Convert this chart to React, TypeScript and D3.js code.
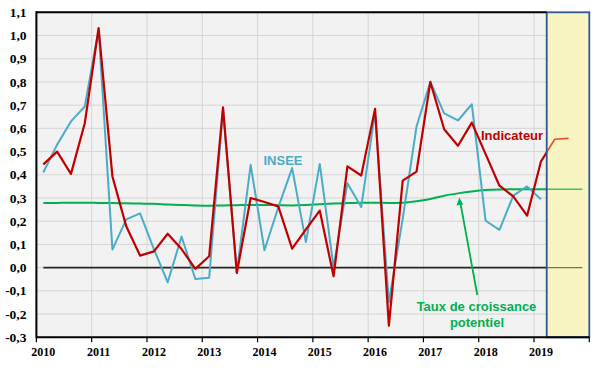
import React from "react";
import * as d3 from "d3";

const years = [2010, 2011, 2012, 2013, 2014, 2015, 2016, 2017, 2018, 2019];
const quarterNames = ["T1", "T2", "T3", "T4"];
const categories = years.flatMap((y) => quarterNames.map((q, k) => ({ label: `${y}${q}`, t: y + (k + 0.5) / 4 })));

// Indicateur (red), 2010T1 .. 2019T3
const indicateur = [
  0.445, 0.5, 0.404, 0.622, 1.032, 0.393, 0.178, 0.052, 0.07, 0.146,
  0.08, -0.005, 0.049, 0.691, -0.023, 0.3, 0.283, 0.264, 0.082, 0.165,
  0.246, -0.037, 0.436, 0.397, 0.684, -0.25, 0.375, 0.414, 0.8, 0.596,
  0.525, 0.625, 0.489, 0.353, 0.307, 0.224, 0.457, 0.553, 0.557,
];
// INSEE (blue), 2010T1 .. 2019T1
const insee = [
  0.41, 0.53, 0.63, 0.694, 1.027, 0.078, 0.208, 0.234, 0.08, -0.063,
  0.134, -0.049, -0.043, 0.68, -0.02, 0.443, 0.075, 0.26, 0.429, 0.11,
  0.447, 0.0, 0.364, 0.261, 0.67, -0.15, 0.21, 0.608, 0.8, 0.665,
  0.634, 0.704, 0.202, 0.163, 0.31, 0.35, 0.295,
];
// Taux de croissance potentiel (green), 2010T1 .. 2019T4
const potentiel = [
  0.278, 0.279, 0.28, 0.28, 0.279, 0.278, 0.277, 0.276, 0.275, 0.272,
  0.27, 0.268, 0.267, 0.268, 0.269, 0.27, 0.27, 0.269, 0.268, 0.27,
  0.273, 0.276, 0.278, 0.28, 0.28, 0.279, 0.28, 0.286, 0.296, 0.31,
  0.32, 0.328, 0.334, 0.337, 0.338, 0.338, 0.338, 0.338, 0.338, 0.338,
];
const yTicks = [-0.3, -0.2, -0.1, 0.0, 0.1, 0.2, 0.3, 0.4, 0.5, 0.6, 0.7, 0.8, 0.9, 1.0, 1.1];
const forecastStart = 2019.23;

const W = 600;
const H = 371;

export default function App() {
  const x = d3.scaleLinear().domain([2010, 2020]).range([36.4, 589.3]);
  const y = d3.scaleLinear().domain([-0.3, 1.1]).range([337.3, 12.3]);
  const x0 = x(2010);
  const x1 = x(2020);
  const y0 = y(-0.3);
  const y1 = y(1.1);
  const xf = x(forecastStart);

  const line = d3
    .line<number>()
    .x((_, i) => x(categories[i].t))
    .y((d) => y(d));
  const smooth = d3
    .line<number>()
    .x((_, i) => x(categories[i].t))
    .y((d) => y(d))
    .curve(d3.curveMonotoneX);

  const fmt = (v: number) => v.toFixed(1).replace(".", ",");
  const zeroX0 = x(categories[0].t);
  const zeroX1 = x(categories[categories.length - 1].t);

  return (
    <svg width={W} height={H} style={{ position: "absolute", left: 0, top: 0, background: "#fff" }}>
      <defs>
        <clipPath id="leftClip">
          <rect x={0} y={0} width={xf} height={H} />
        </clipPath>
        <clipPath id="rightClip">
          <rect x={xf} y={0} width={W - xf} height={H} />
        </clipPath>
      </defs>
      <rect x={x0} y={y1} width={x1 - x0} height={y0 - y1} fill="#f2f2f2" />
      {yTicks.slice(1, -1).map((t) => (
        <line key={"h" + t} x1={x0} x2={x1} y1={y(t)} y2={y(t)} stroke="#d5d5d5" strokeWidth={1} />
      ))}
      {years.slice(1).map((yr) => (
        <line key={"v" + yr} x1={x(yr)} x2={x(yr)} y1={y1} y2={y0} stroke="#d5d5d5" strokeWidth={1} />
      ))}
      <rect x={xf} y={y1} width={x1 - xf} height={y0 - y1} fill="#f8f5c3" />

      {/* zero line */}
      <g clipPath="url(#leftClip)">
        <line x1={zeroX0} x2={zeroX1} y1={y(0)} y2={y(0)} stroke="#262626" strokeWidth={1.8} />
      </g>
      <g clipPath="url(#rightClip)">
        <line x1={zeroX0} x2={zeroX1} y1={y(0)} y2={y(0)} stroke="#7d7050" strokeWidth={1.4} />
      </g>

      {/* potentiel */}
      <g clipPath="url(#leftClip)">
        <path d={smooth(potentiel) || ""} fill="none" stroke="#00b050" strokeWidth={2} />
      </g>
      <g clipPath="url(#rightClip)">
        <path d={smooth(potentiel) || ""} fill="none" stroke="#3cc070" strokeWidth={1.4} />
      </g>

      {/* INSEE */}
      <path d={line(insee) || ""} fill="none" stroke="#4bacc6" strokeWidth={2} strokeLinejoin="round" />

      {/* Indicateur */}
      <g clipPath="url(#leftClip)">
        <path d={line(indicateur) || ""} fill="none" stroke="#c00000" strokeWidth={2.2} strokeLinejoin="round" />
      </g>
      <g clipPath="url(#rightClip)">
        <path d={line(indicateur) || ""} fill="none" stroke="#e2532a" strokeWidth={1.6} strokeLinejoin="round" />
      </g>

      {/* forecast box border */}
      <rect x={xf} y={y1} width={x1 - xf} height={y0 - y1} fill="none" stroke="#2f5597" strokeWidth={1.8} />

      {/* axes */}
      <line x1={x0} x2={xf} y1={y1} y2={y1} stroke="#000" strokeWidth={2} />
      <line x1={x0} x2={x0} y1={y1 - 1} y2={y0 + 1} stroke="#000" strokeWidth={2} />
      <line x1={x0} x2={x1} y1={y0} y2={y0} stroke="#000" strokeWidth={2} />
      {[...years, 2020].map((yr) => (
        <line key={"t" + yr} x1={x(yr)} x2={x(yr)} y1={y0} y2={y0 + 5} stroke="#000" strokeWidth={1.2} />
      ))}

      {yTicks.map((t) => (
        <text
          key={"yl" + t}
          x={26.5}
          y={y(t) + 4.6}
          textAnchor="end"
          fontFamily="'Liberation Serif', 'Times New Roman', serif"
          fontWeight="bold"
          fontSize={13.5}
          fill="#000"
        >
          {fmt(t)}
        </text>
      ))}
      {years.map((yr) => (
        <text
          key={"xl" + yr}
          x={x(yr + 0.125)}
          y={356}
          textAnchor="middle"
          fontFamily="'Liberation Serif', 'Times New Roman', serif"
          fontWeight="bold"
          fontSize={12}
          fill="#000"
        >
          {yr}
        </text>
      ))}

      {/* annotations */}
      <text x={283} y={164.5} textAnchor="middle" fontFamily="'Liberation Sans', Arial, sans-serif" fontWeight="bold" fontSize={13} fill="#4bacc6">
        INSEE
      </text>
      <text x={481} y={139.5} fontFamily="'Liberation Sans', Arial, sans-serif" fontWeight="bold" fontSize={13} fill="#c00000">
        Indicateur
      </text>
      <text x={476.5} y={311} textAnchor="middle" fontFamily="'Liberation Sans', Arial, sans-serif" fontWeight="bold" fontSize={13} fill="#00b050">
        Taux de croissance
      </text>
      <text x={477} y={326.5} textAnchor="middle" fontFamily="'Liberation Sans', Arial, sans-serif" fontWeight="bold" fontSize={13} fill="#00b050">
        potentiel
      </text>
      <line x1={477.3} y1={295} x2={460.6} y2={204} stroke="#00b050" strokeWidth={1.8} />
      <path d="M459.3,197.5 L456.6,205.6 L463.2,204.4 Z" fill="#00b050" />
    </svg>
  );
}
